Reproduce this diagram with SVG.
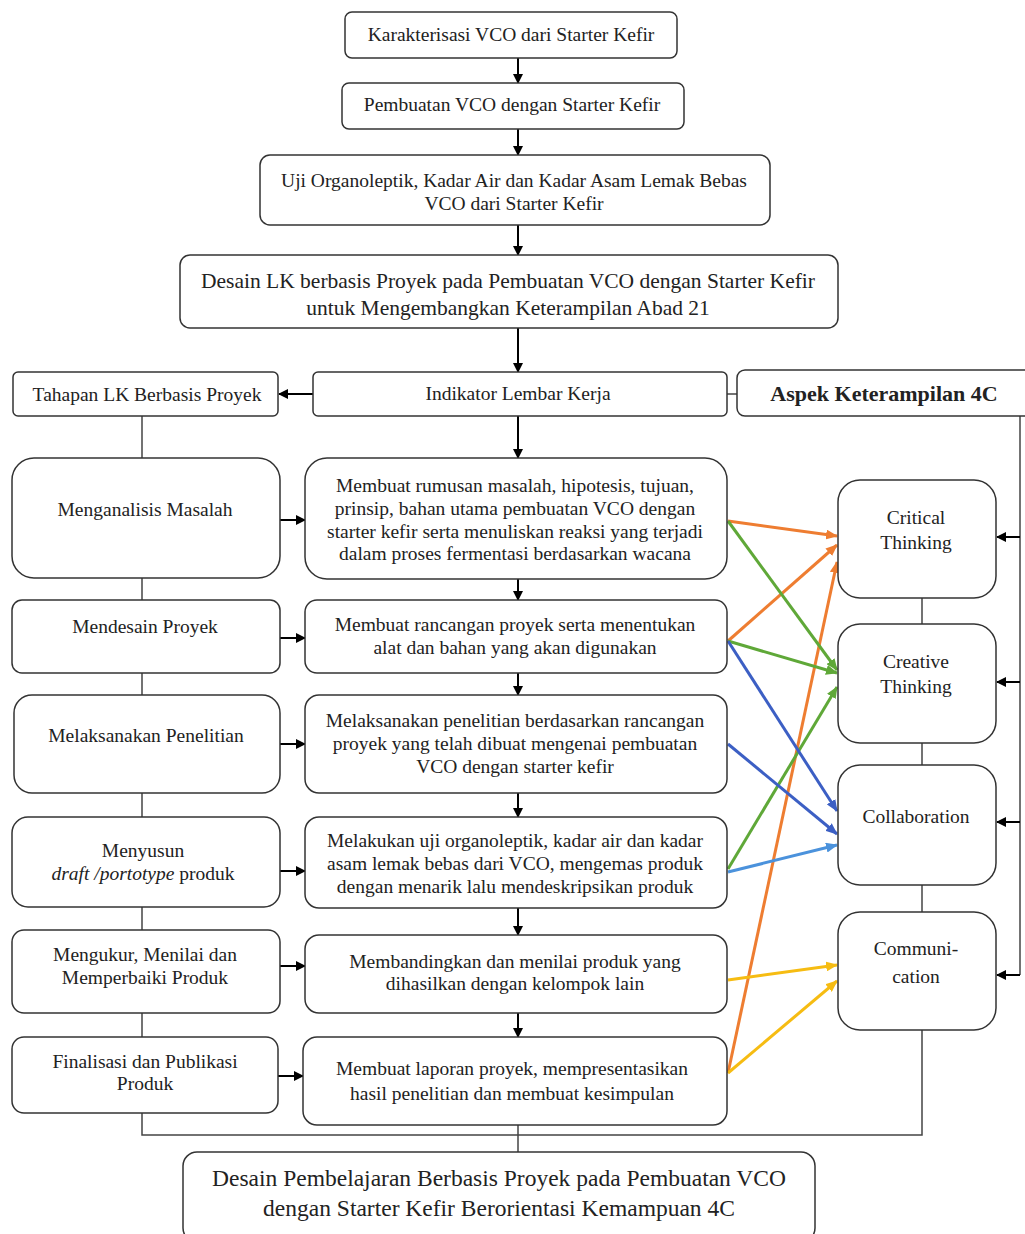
<svg xmlns="http://www.w3.org/2000/svg" width="1025" height="1234" viewBox="0 0 1025 1234">
<defs>
<marker id="ab" markerWidth="10" markerHeight="10" refX="9" refY="5" orient="auto" markerUnits="userSpaceOnUse"><path d="M0,0 L10,5 L0,10 Z" fill="#000"/></marker>
<marker id="ao" markerWidth="12" markerHeight="10" refX="11" refY="5" orient="auto" markerUnits="userSpaceOnUse"><path d="M0,0 L12,5 L0,10 Z" fill="#EE7D31"/></marker>
<marker id="ag" markerWidth="12" markerHeight="10" refX="11" refY="5" orient="auto" markerUnits="userSpaceOnUse"><path d="M0,0 L12,5 L0,10 Z" fill="#5FA838"/></marker>
<marker id="ad" markerWidth="12" markerHeight="10" refX="11" refY="5" orient="auto" markerUnits="userSpaceOnUse"><path d="M0,0 L12,5 L0,10 Z" fill="#3C5FC4"/></marker>
<marker id="al" markerWidth="12" markerHeight="10" refX="11" refY="5" orient="auto" markerUnits="userSpaceOnUse"><path d="M0,0 L12,5 L0,10 Z" fill="#4B92DC"/></marker>
<marker id="ay" markerWidth="12" markerHeight="10" refX="11" refY="5" orient="auto" markerUnits="userSpaceOnUse"><path d="M0,0 L12,5 L0,10 Z" fill="#F6BC12"/></marker>
</defs>
<style>
.b{fill:#fff;stroke:#333;stroke-width:1.5}
.t{font-family:"Liberation Serif","Times New Roman",serif;font-size:19.5px;fill:#222;text-anchor:middle}
.big{font-size:21.5px}
.fin{font-size:23.5px}
.asp{font-size:22px;font-weight:bold}
.l{fill:none;stroke:#000;stroke-width:2}
.g{fill:none;stroke:#444;stroke-width:1.5}
.c{fill:none;stroke-width:3}
</style>
<rect width="1025" height="1234" fill="#fff"/>

<g id="connectors">
<line class="l" x1="518" y1="58" x2="518" y2="83" marker-end="url(#ab)"/>
<line class="l" x1="518" y1="129" x2="518" y2="155" marker-end="url(#ab)"/>
<line class="l" x1="518" y1="225" x2="518" y2="255" marker-end="url(#ab)"/>
<line class="l" x1="518" y1="328" x2="518" y2="372" marker-end="url(#ab)"/>
<line class="l" x1="313" y1="394" x2="279" y2="394" marker-end="url(#ab)"/>
<line class="g" x1="727" y1="394" x2="737" y2="394"/>
<line class="l" x1="518" y1="416" x2="518" y2="458" marker-end="url(#ab)"/>
<line class="l" x1="518" y1="579" x2="518" y2="600" marker-end="url(#ab)"/>
<line class="l" x1="518" y1="673" x2="518" y2="695" marker-end="url(#ab)"/>
<line class="l" x1="518" y1="793" x2="518" y2="817" marker-end="url(#ab)"/>
<line class="l" x1="518" y1="908" x2="518" y2="935" marker-end="url(#ab)"/>
<line class="l" x1="518" y1="1013" x2="518" y2="1037" marker-end="url(#ab)"/>
<line class="l" x1="280" y1="520" x2="305" y2="520" marker-end="url(#ab)"/>
<line class="l" x1="280" y1="638" x2="305" y2="638" marker-end="url(#ab)"/>
<line class="l" x1="280" y1="744" x2="305" y2="744" marker-end="url(#ab)"/>
<line class="l" x1="280" y1="871" x2="305" y2="871" marker-end="url(#ab)"/>
<line class="l" x1="280" y1="966" x2="305" y2="966" marker-end="url(#ab)"/>
<line class="l" x1="278" y1="1076" x2="303" y2="1076" marker-end="url(#ab)"/>
<line class="g" x1="142" y1="416" x2="142" y2="458"/>
<line class="g" x1="142" y1="578" x2="142" y2="600"/>
<line class="g" x1="142" y1="673" x2="142" y2="695"/>
<line class="g" x1="142" y1="793" x2="142" y2="817"/>
<line class="g" x1="142" y1="907" x2="142" y2="930"/>
<line class="g" x1="142" y1="1013" x2="142" y2="1037"/>
<polyline class="g" points="142,1113 142,1135 922,1135 922,1030"/>
<line class="g" x1="518" y1="1125" x2="518" y2="1152"/>
<line class="g" x1="922" y1="598" x2="922" y2="624"/>
<line class="g" x1="922" y1="743" x2="922" y2="765"/>
<line class="g" x1="922" y1="885" x2="922" y2="912"/>
<line class="g" x1="1020" y1="416" x2="1020" y2="975"/>
<line class="l" x1="1020" y1="537" x2="997" y2="537" marker-end="url(#ab)"/>
<line class="l" x1="1020" y1="682" x2="997" y2="682" marker-end="url(#ab)"/>
<line class="l" x1="1020" y1="822" x2="997" y2="822" marker-end="url(#ab)"/>
<line class="l" x1="1020" y1="975" x2="997" y2="975" marker-end="url(#ab)"/>
<line class="c" stroke="#EE7D31" x1="728" y1="521" x2="837" y2="536" marker-end="url(#ao)"/>
<line class="c" stroke="#EE7D31" x1="728" y1="641" x2="837" y2="545" marker-end="url(#ao)"/>
<line class="c" stroke="#EE7D31" stroke-width="2.5" x1="728" y1="1073" x2="837" y2="562" marker-end="url(#ao)"/>
<line class="c" stroke="#5FA838" x1="728" y1="521" x2="837" y2="670" marker-end="url(#ag)"/>
<line class="c" stroke="#5FA838" x1="728" y1="641" x2="837" y2="673" marker-end="url(#ag)"/>
<line class="c" stroke="#5FA838" stroke-width="2" x1="728" y1="869" x2="837" y2="687" marker-end="url(#ag)"/>
<line class="c" stroke="#3C5FC4" x1="728" y1="641" x2="837" y2="811" marker-end="url(#ad)"/>
<line class="c" stroke="#3C5FC4" x1="728" y1="744" x2="837" y2="834" marker-end="url(#ad)"/>
<line class="c" stroke="#4B92DC" x1="728" y1="872" x2="837" y2="845" marker-end="url(#al)"/>
<line class="c" stroke="#F6BC12" x1="728" y1="980" x2="837" y2="965" marker-end="url(#ay)"/>
<line class="c" stroke="#F6BC12" x1="728" y1="1073" x2="837" y2="981" marker-end="url(#ay)"/>
</g>

<g id="n1"><rect class="b" x="345" y="12" width="332" height="46" rx="7"/><text class="t" x="511" y="41">Karakterisasi VCO  dari Starter Kefir</text></g>
<g id="n2"><rect class="b" x="342" y="83" width="342" height="46" rx="7"/><text class="t" x="512" y="111">Pembuatan VCO dengan Starter Kefir</text></g>
<g id="n3"><rect class="b" x="260" y="155" width="510" height="70" rx="10"/><text class="t" x="514" y="187">Uji Organoleptik, Kadar Air dan Kadar Asam Lemak Bebas</text><text class="t" x="514" y="210">VCO dari Starter Kefir</text></g>
<g id="n4"><rect class="b" x="180" y="255" width="658" height="73" rx="10"/><text class="t big" x="508" y="288">Desain LK berbasis Proyek pada Pembuatan VCO dengan Starter Kefir</text><text class="t big" x="508" y="315">untuk Mengembangkan Keterampilan Abad 21</text></g>

<g id="tahapan"><rect class="b" x="13" y="372" width="265" height="44" rx="5"/><text class="t" x="147" y="401">Tahapan LK Berbasis Proyek</text></g>
<g id="indikator"><rect class="b" x="313" y="372" width="414" height="44" rx="5"/><text class="t" x="518" y="400">Indikator Lembar Kerja</text></g>
<g id="aspek"><rect class="b" x="737" y="370" width="300" height="46" rx="8"/><text class="t asp" x="884" y="401">Aspek Keterampilan 4C</text></g>

<g id="s1"><rect class="b" x="12" y="458" width="268" height="120" rx="22"/><text class="t" x="145" y="516">Menganalisis Masalah</text></g>
<g id="s2"><rect class="b" x="12" y="600" width="268" height="73" rx="10"/><text class="t" x="145" y="633">Mendesain Proyek</text></g>
<g id="s3"><rect class="b" x="14" y="695" width="266" height="98" rx="18"/><text class="t" x="146" y="742">Melaksanakan Penelitian</text></g>
<g id="s4"><rect class="b" x="12" y="817" width="268" height="90" rx="16"/><text class="t" x="143" y="857">Menyusun</text><text class="t" x="143" y="880"><tspan font-style="italic">draft /portotype</tspan> produk</text></g>
<g id="s5"><rect class="b" x="12" y="930" width="268" height="83" rx="12"/><text class="t" x="145" y="961">Mengukur, Menilai dan</text><text class="t" x="145" y="984">Memperbaiki Produk</text></g>
<g id="s6"><rect class="b" x="12" y="1037" width="266" height="76" rx="12"/><text class="t" x="145" y="1068">Finalisasi dan Publikasi</text><text class="t" x="145" y="1090">Produk</text></g>

<g id="m1"><rect class="b" x="305" y="458" width="422" height="121" rx="22"/><text class="t" x="515" y="492">Membuat rumusan masalah, hipotesis, tujuan,</text><text class="t" x="515" y="515">prinsip, bahan utama pembuatan VCO dengan</text><text class="t" x="515" y="538">starter kefir serta menuliskan reaksi yang terjadi</text><text class="t" x="515" y="560">dalam proses fermentasi berdasarkan wacana</text></g>
<g id="m2"><rect class="b" x="305" y="600" width="422" height="73" rx="12"/><text class="t" x="515" y="631">Membuat rancangan proyek serta menentukan</text><text class="t" x="515" y="654">alat dan bahan yang akan digunakan</text></g>
<g id="m3"><rect class="b" x="305" y="695" width="422" height="98" rx="14"/><text class="t" x="515" y="727">Melaksanakan penelitian berdasarkan rancangan</text><text class="t" x="515" y="750">proyek yang telah dibuat mengenai pembuatan</text><text class="t" x="515" y="773">VCO dengan starter kefir</text></g>
<g id="m4"><rect class="b" x="305" y="817" width="422" height="91" rx="14"/><text class="t" x="515" y="847">Melakukan uji organoleptik, kadar air dan kadar</text><text class="t" x="515" y="870">asam lemak bebas dari VCO, mengemas produk</text><text class="t" x="515" y="893">dengan menarik lalu mendeskripsikan produk</text></g>
<g id="m5"><rect class="b" x="305" y="935" width="422" height="78" rx="14"/><text class="t" x="515" y="968">Membandingkan dan menilai produk yang</text><text class="t" x="515" y="990">dihasilkan dengan kelompok lain</text></g>
<g id="m6"><rect class="b" x="303" y="1037" width="424" height="88" rx="14"/><text class="t" x="512" y="1075">Membuat laporan proyek, mempresentasikan</text><text class="t" x="512" y="1100">hasil penelitian dan membuat kesimpulan</text></g>

<g id="critical"><rect class="b" x="838" y="480" width="158" height="118" rx="22"/><text class="t" x="916" y="524">Critical</text><text class="t" x="916" y="549">Thinking</text></g>
<g id="creative"><rect class="b" x="838" y="624" width="158" height="119" rx="22"/><text class="t" x="916" y="668">Creative</text><text class="t" x="916" y="693">Thinking</text></g>
<g id="collaboration"><rect class="b" x="838" y="765" width="158" height="120" rx="22"/><text class="t" x="916" y="823">Collaboration</text></g>
<g id="communication"><rect class="b" x="838" y="912" width="158" height="118" rx="22"/><text class="t" x="916" y="955">Communi-</text><text class="t" x="916" y="983">cation</text></g>

<g id="final"><rect class="b" x="183" y="1152" width="632" height="90" rx="14"/><text class="t fin" x="499" y="1186">Desain Pembelajaran Berbasis Proyek pada Pembuatan VCO</text><text class="t fin" x="499" y="1216">dengan Starter Kefir Berorientasi Kemampuan 4C</text></g>
</svg>
